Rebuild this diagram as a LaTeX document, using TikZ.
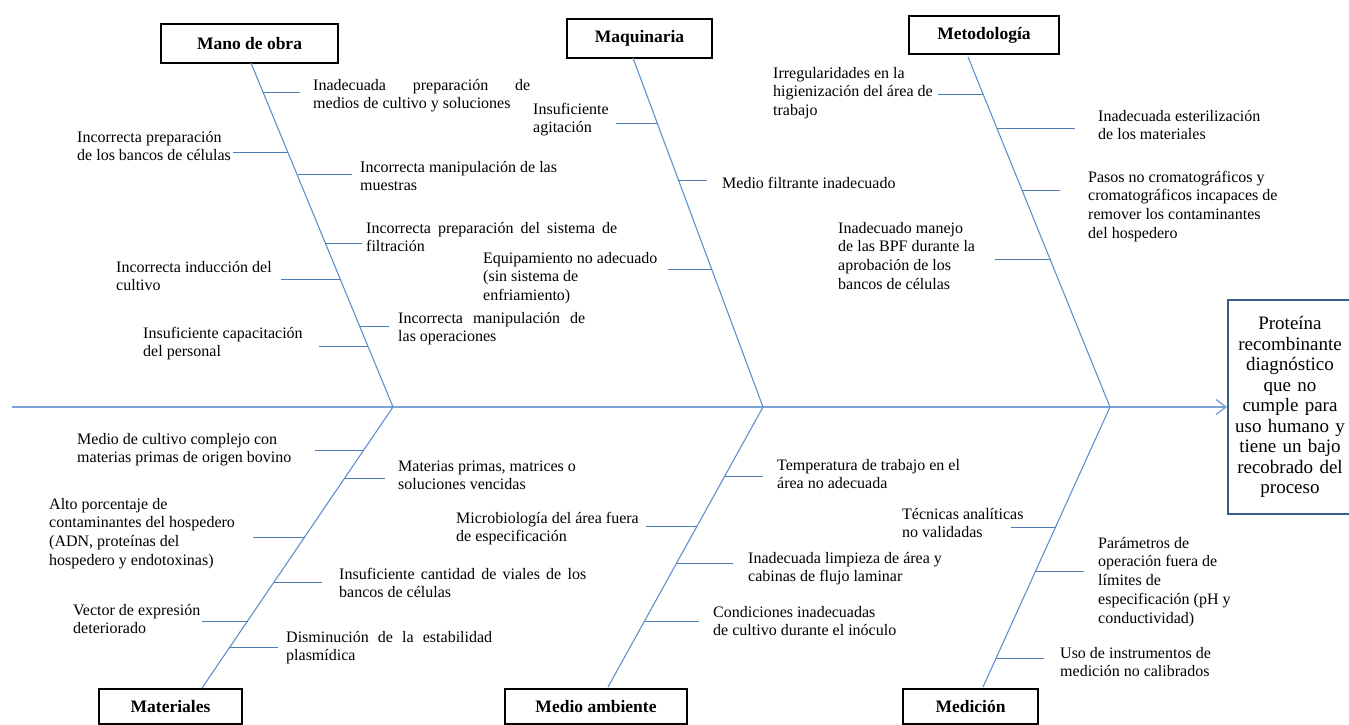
\documentclass[tikz,border=0pt]{standalone}
\usepackage{fontspec}
\setmainfont{Liberation Serif}
\usetikzlibrary{arrows.meta}

\definecolor{spinecol}{RGB}{124,164,216}
\definecolor{bonecol}{RGB}{96,145,206}
\definecolor{ribcol}{RGB}{78,124,178}
\definecolor{effcol}{RGB}{56,93,138}

\newcommand{\lblfont}{\fontsize{16}{18.7}\selectfont}
\newcommand{\catfont}{\fontsize{17.5}{20}\selectfont\bfseries}
\newcommand{\efffont}{\fontsize{19}{20.5}\selectfont}

\tikzset{
  spine/.style={draw=spinecol, line width=1.4pt},
  bone/.style={draw=bonecol, line width=1.1pt},
  rib/.style={draw=ribcol, line width=0.9pt},
  cat/.style={draw, line width=1.8pt, font=\catfont, inner sep=0pt},
  lbl/.style={anchor=north west, inner sep=0pt, align=left, font=\lblfont},
}

\begin{document}
\begin{tikzpicture}[x=1pt, y=-1pt]
  \useasboundingbox (0,0) rectangle (1349,725);

  % Categories
  \node[cat, minimum width=177pt, minimum height=39pt] (mo)  at (249.5,43.5) {Mano de obra};
  \node[cat, minimum width=145pt, minimum height=39pt] (maq) at (639.5,38.5) {Maquinaria};
  \node[cat, minimum width=150pt, minimum height=38pt] (met) at (984,35)     {Metodología};
  \node[cat, minimum width=143pt, minimum height=35pt] (mat) at (170.5,706.5) {Materiales};
  \node[cat, minimum width=182pt, minimum height=35pt] (ma)  at (596,706.5)   {Medio ambiente};
  \node[cat, minimum width=135pt, minimum height=35pt] (med) at (970.5,706.5) {Medición};

  % Effect
  \node[draw=effcol, line width=1.8pt, minimum width=124pt, minimum height=214pt,
        text width=122pt, align=center, font=\efffont, inner sep=0pt] (ef) at (1290,407)
    {Proteína\\ recombinante\\ diagnóstico\\ que no\\ cumple para\\ uso humano y\\ tiene un bajo\\ recobrado del\\ proceso};

  % Spine and bones
  \coordinate (s) at (12,407);
  \coordinate (j1) at (393,407);
  \coordinate (j2) at (763,407);
  \coordinate (j3) at (1110,407);
  \coordinate (b1) at (251,63);
  \coordinate (b2) at (633,58);
  \coordinate (b3) at (968,57);
  \coordinate (b4) at (202,688);
  \coordinate (b5) at (608,687);
  \coordinate (b6) at (983,687);

  \draw[spine, -{Straight Barb[length=10pt,width=15pt]}] (s) -- (ef.west);
  \draw[bone] (b1) -- (j1) -- (b4);
  \draw[bone] (b2) -- (j2) -- (b5);
  \draw[bone] (b3) -- (j3) -- (b6);

  % Mano de obra
  \node[lbl] (t1) at (313,77) {\strut\makebox[217pt][s]{Inadecuada preparación de}\\ medios de cultivo y soluciones};
  \node[lbl] (t2) at (77,129) {\strut Incorrecta preparación\\ de los bancos de células};
  \node[lbl] (t3) at (360,159) {\strut Incorrecta manipulación de las\\ muestras};
  \node[lbl] (t4) at (366,220) {\strut\makebox[251pt][s]{Incorrecta preparación del sistema de}\\ filtración};
  \node[lbl] (t5) at (116,259) {\strut Incorrecta inducción del\\ cultivo};
  \node[lbl] (t6) at (398,310) {\strut\makebox[187pt][s]{Incorrecta manipulación de}\\ las operaciones};
  \node[lbl] (t7) at (143,325) {\strut Insuficiente capacitación\\ del personal};

  \coordinate (r1) at (263,92);  \coordinate (e1) at (300,92);
  \coordinate (r2) at (288,152); \coordinate (e2) at (233,152);
  \coordinate (r3) at (298,174); \coordinate (e3) at (352,174);
  \coordinate (r4) at (325,243); \coordinate (e4) at (362,243);
  \coordinate (r5) at (340,279); \coordinate (e5) at (281,279);
  \coordinate (r6) at (360,326); \coordinate (e6) at (389,326);
  \coordinate (r7) at (368,346); \coordinate (e7) at (319,346);
  \draw[rib] (r1) -- (e1);
  \draw[rib] (r2) -- (e2);
  \draw[rib] (r3) -- (e3);
  \draw[rib] (r4) -- (e4);
  \draw[rib] (r5) -- (e5);
  \draw[rib] (r6) -- (e6);
  \draw[rib] (r7) -- (e7);

  % Materiales
  \node[lbl] (t8) at (77,431) {\strut Medio de cultivo complejo con\\ materias primas de origen bovino};
  \node[lbl] (t9) at (398,458) {\strut Materias primas, matrices o\\ soluciones vencidas};
  \node[lbl] (t10) at (49,496) {\strut Alto porcentaje de\\ contaminantes del hospedero\\ (ADN, proteínas del\\ hospedero y endotoxinas)};
  \node[lbl] (t11) at (339,566) {\strut\makebox[247pt][s]{Insuficiente cantidad de viales de los}\\ bancos de células};
  \node[lbl] (t12) at (73,602) {\strut Vector de expresión\\ deteriorado};
  \node[lbl] (t13) at (286,629) {\strut\makebox[206pt][s]{Disminución de la estabilidad}\\ plasmídica};

  \coordinate (r8) at (364,450);  \coordinate (e8) at (315,450);
  \coordinate (r9) at (345,478);  \coordinate (e9) at (385,478);
  \coordinate (r10) at (305,537); \coordinate (e10) at (253,537);
  \coordinate (r11) at (274,582); \coordinate (e11) at (322,582);
  \coordinate (r12) at (248,621); \coordinate (e12) at (202,621);
  \coordinate (r13) at (230,647); \coordinate (e13) at (278,647);
  \draw[rib] (r8) -- (e8);
  \draw[rib] (r9) -- (e9);
  \draw[rib] (r10) -- (e10);
  \draw[rib] (r11) -- (e11);
  \draw[rib] (r12) -- (e12);
  \draw[rib] (r13) -- (e13);

  % Maquinaria
  \node[lbl] (t14) at (533,101) {\strut Insuficiente\\ agitación};
  \node[lbl] (t15) at (722,175) {\strut Medio filtrante inadecuado};
  \node[lbl] (t16) at (483,250) {\strut Equipamiento no adecuado\\ (sin sistema de\\ enfriamiento)};

  \coordinate (r14) at (657,123); \coordinate (e14) at (616,123);
  \coordinate (r15) at (678,180); \coordinate (e15) at (707,180);
  \coordinate (r16) at (712,269); \coordinate (e16) at (668,269);
  \draw[rib] (r14) -- (e14);
  \draw[rib] (r15) -- (e15);
  \draw[rib] (r16) -- (e16);

  % Medio ambiente
  \node[lbl] (t17) at (777,457) {\strut Temperatura de trabajo en el\\ área no adecuada};
  \node[lbl] (t18) at (456,510) {\strut Microbiología del área fuera\\ de especificación};
  \node[lbl] (t19) at (748,550) {\strut Inadecuada limpieza de área y\\ cabinas de flujo laminar};
  \node[lbl] (t20) at (713,604) {\strut Condiciones inadecuadas\\ de cultivo durante el inóculo};

  \coordinate (r17) at (725,476); \coordinate (e17) at (763,476);
  \coordinate (r18) at (697,526); \coordinate (e18) at (646,526);
  \coordinate (r19) at (677,563); \coordinate (e19) at (733,563);
  \coordinate (r20) at (645,621); \coordinate (e20) at (699,621);
  \draw[rib] (r17) -- (e17);
  \draw[rib] (r18) -- (e18);
  \draw[rib] (r19) -- (e19);
  \draw[rib] (r20) -- (e20);

  % Metodologia
  \node[lbl] (t21) at (773,65) {\strut Irregularidades en la\\ higienización del área de\\ trabajo};
  \node[lbl] (t22) at (1098,108) {\strut Inadecuada esterilización\\ de los materiales};
  \node[lbl] (t23) at (1088,169) {\strut Pasos no cromatográficos y\\ cromatográficos incapaces de\\ remover los contaminantes\\ del hospedero};
  \node[lbl] (t24) at (838,220) {\strut Inadecuado manejo\\ de las BPF durante la\\ aprobación de los\\ bancos de células};

  \coordinate (r21) at (983,94);   \coordinate (e21) at (938,94);
  \coordinate (r22) at (997,128);  \coordinate (e22) at (1075,128);
  \coordinate (r23) at (1022,190); \coordinate (e23) at (1060,190);
  \coordinate (r24) at (1050,259); \coordinate (e24) at (995,259);
  \draw[rib] (r21) -- (e21);
  \draw[rib] (r22) -- (e22);
  \draw[rib] (r23) -- (e23);
  \draw[rib] (r24) -- (e24);

  % Medicion
  \node[lbl] (t25) at (902,506) {\strut Técnicas analíticas\\ no validadas};
  \node[lbl] (t26) at (1098,535) {\strut Parámetros de\\ operación fuera de\\ límites de\\ especificación (pH y\\ conductividad)};
  \node[lbl] (t27) at (1060,645) {\strut Uso de instrumentos de\\ medición no calibrados};

  \coordinate (r25) at (1056,527); \coordinate (e25) at (1011,527);
  \coordinate (r26) at (1036,571); \coordinate (e26) at (1084,571);
  \coordinate (r27) at (996,658);  \coordinate (e27) at (1044,658);
  \draw[rib] (r25) -- (e25);
  \draw[rib] (r26) -- (e26);
  \draw[rib] (r27) -- (e27);
\end{tikzpicture}
\end{document}
